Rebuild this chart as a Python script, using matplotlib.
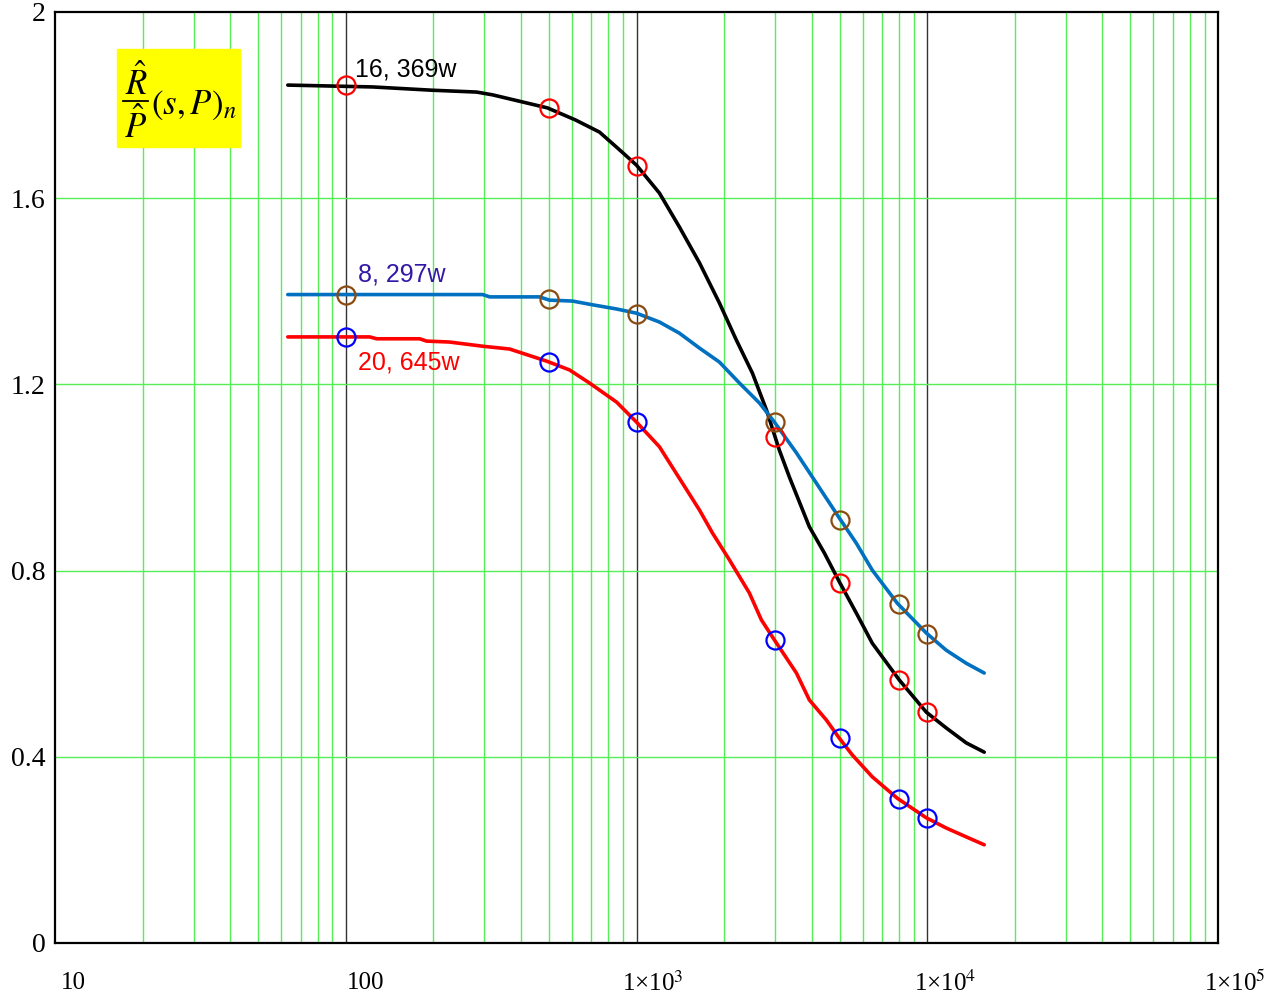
import numpy as np
import matplotlib
matplotlib.use("Agg")
import matplotlib.pyplot as plt
from matplotlib.patches import Rectangle
from matplotlib.lines import Line2D
import matplotlib.transforms as mtransforms

plt.rcParams['mathtext.fontset'] = 'stix'

# кривые (s, значение)
s_black = [63.2, 123.8, 197.5, 282, 320, 494, 617, 746, 874, 1000, 1199, 1405, 1647,
           1928, 2206, 2505, 2799, 3099, 3356, 3932, 4425, 4984, 5700, 6470, 8014,
           9922, 11620, 13610, 15700]
r_black = [1.843, 1.839, 1.832, 1.828, 1.822, 1.794, 1.768, 1.742, 1.704, 1.671, 1.611,
           1.538, 1.461, 1.375, 1.295, 1.224, 1.145, 1.059, 1.001, 0.894, 0.838, 0.776,
           0.709, 0.644, 0.565, 0.496, 0.462, 0.430, 0.410]

s_blue = [63.2, 295.7, 312.6, 464, 502, 603, 706, 854, 1000, 1199, 1405, 1647, 1928,
          2259, 2648, 2981, 3548, 4155, 4984, 5700, 6470, 7886, 9922, 11620, 13610, 15700]
r_blue = [1.393, 1.393, 1.388, 1.388, 1.381, 1.379, 1.371, 1.362, 1.353, 1.334, 1.310,
          1.278, 1.248, 1.203, 1.160, 1.119, 1.053, 0.988, 0.913, 0.859, 0.801, 0.730,
          0.666, 0.629, 0.601, 0.580]

s_red = [63.2, 120.9, 127.8, 179.5, 189.7, 227.5, 295.7, 366, 490.6, 588.6, 689, 854,
         1000, 1199, 1647, 1824, 2087, 2444, 2689, 2981, 3548, 3932, 4498, 4984, 5523,
         6470, 7886, 9922, 11620, 13610, 15700]
r_red = [1.302, 1.302, 1.298, 1.298, 1.293, 1.291, 1.282, 1.276, 1.250, 1.231, 1.203,
         1.162, 1.119, 1.066, 0.930, 0.881, 0.823, 0.752, 0.694, 0.651, 0.580, 0.522,
         0.479, 0.440, 0.404, 0.357, 0.311, 0.269, 0.247, 0.228, 0.211]

# точки (кружки)
s_pts = [100, 500, 1000, 3000, 5000, 8000, 10000]
p_black = [1.843, 1.794, 1.669, 1.087, 0.773, 0.565, 0.496]
p_blue = [1.392, 1.383, 1.351, 1.119, 0.909, 0.728, 0.664]
p_red = [1.302, 1.248, 1.119, 0.651, 0.440, 0.309, 0.269]

y_ticks = [0, 0.4, 0.8, 1.2, 1.6, 2]
y_labels = ['0', '0.4', '0.8', '1.2', '1.6', '2']
x_ticks = [10, 100, 1000, 10000, 100000]
x_labels = ['10', '100', r'1×10$^{3}$', r'1×10$^{4}$', r'1×10$^{5}$']
x_shift = [6, 1, -14, -13, -14]   # сдвиг подписи, px

W, H = 1269, 1000
fig = plt.figure(figsize=(W / 100, H / 100), dpi=100)
ax = fig.add_axes([55 / W, 57 / H, (1218 - 55) / W, (943 - 12) / H])
ax.set_xscale('log')
ax.set_xlim(10, 1e5)
ax.set_ylim(0, 2)

# сетка
green = '#55EE55'
for dec in [10, 100, 1000, 10000]:
    for k in range(2, 10):
        ax.axvline(dec * k, color=green, lw=1, zorder=1)
for v in [100, 1000, 10000]:
    ax.axvline(v, color='#333333', lw=1, zorder=1)
for v in [0.4, 0.8, 1.2, 1.6]:
    ax.axhline(v, color=green, lw=1, zorder=1)

lw = 2.6
ax.plot(s_black, r_black, color='black', lw=lw, zorder=3, solid_capstyle='round')
ax.plot(s_blue, r_blue, color='#0070C0', lw=lw, zorder=3, solid_capstyle='round')
ax.plot(s_red, r_red, color='red', lw=lw, zorder=3, solid_capstyle='round')

ms = 13
ax.plot(s_pts, p_black, 'o', mfc='none', mec='red', ms=ms, mew=1.6, zorder=4)
ax.plot(s_pts, p_blue, 'o', mfc='none', mec='#8B4A10', ms=ms, mew=1.6, zorder=4)
ax.plot(s_pts, p_red, 'o', mfc='none', mec='blue', ms=ms, mew=1.6, zorder=4)

ax.tick_params(length=0)
ax.set_xticks(x_ticks)
ax.set_xticklabels([])
ax.xaxis.set_minor_locator(matplotlib.ticker.NullLocator())
ax.set_yticks(y_ticks)
ax.set_yticklabels(y_labels, fontfamily='Liberation Serif', fontsize=20)
ax.tick_params(axis='y', pad=7)

base = mtransforms.blended_transform_factory(ax.transData, ax.transAxes)
for xv, lab, dx in zip(x_ticks, x_labels, x_shift):
    tr = base + mtransforms.ScaledTranslation(dx / 100, 0, fig.dpi_scale_trans)
    ax.text(xv, -0.043, lab, transform=tr, ha='left', va='center',
            fontsize=18, fontfamily='Liberation Serif')

for sp in ax.spines.values():
    sp.set_linewidth(1.6)

# подписи кривых
ax.text(107.4, 1.862, '16, 369w', fontsize=18, fontfamily='Liberation Sans', color='black')
ax.text(110, 1.422, '8, 297w', fontsize=18, fontfamily='Liberation Sans', color='#3318A8')
ax.text(110, 1.233, '20, 645w', fontsize=18, fontfamily='Liberation Sans', color='red')

# жёлтая табличка с формулой
fig.patches.append(Rectangle((117 / W, 1 - 147 / H), 123 / W, 98 / H,
                             transform=fig.transFigure, color='yellow', zorder=5))
fig.text(136 / W, 1 - 95 / H, r'$\hat{R}$', ha='center', va='baseline', fontsize=25, zorder=6)
fig.text(136 / W, 1 - 138 / H, r'$\hat{P}$', ha='center', va='baseline', fontsize=25, zorder=6)
fig.lines.append(Line2D([123 / W, 148 / W], [1 - 101 / H, 1 - 101 / H],
                        transform=fig.transFigure, color='black', lw=1.3, zorder=6))
fig.text(151 / W, 1 - 114 / H, r'$(s,P)_n$', ha='left', va='baseline', fontsize=25, zorder=6)

fig.savefig('out.png', dpi=100)
